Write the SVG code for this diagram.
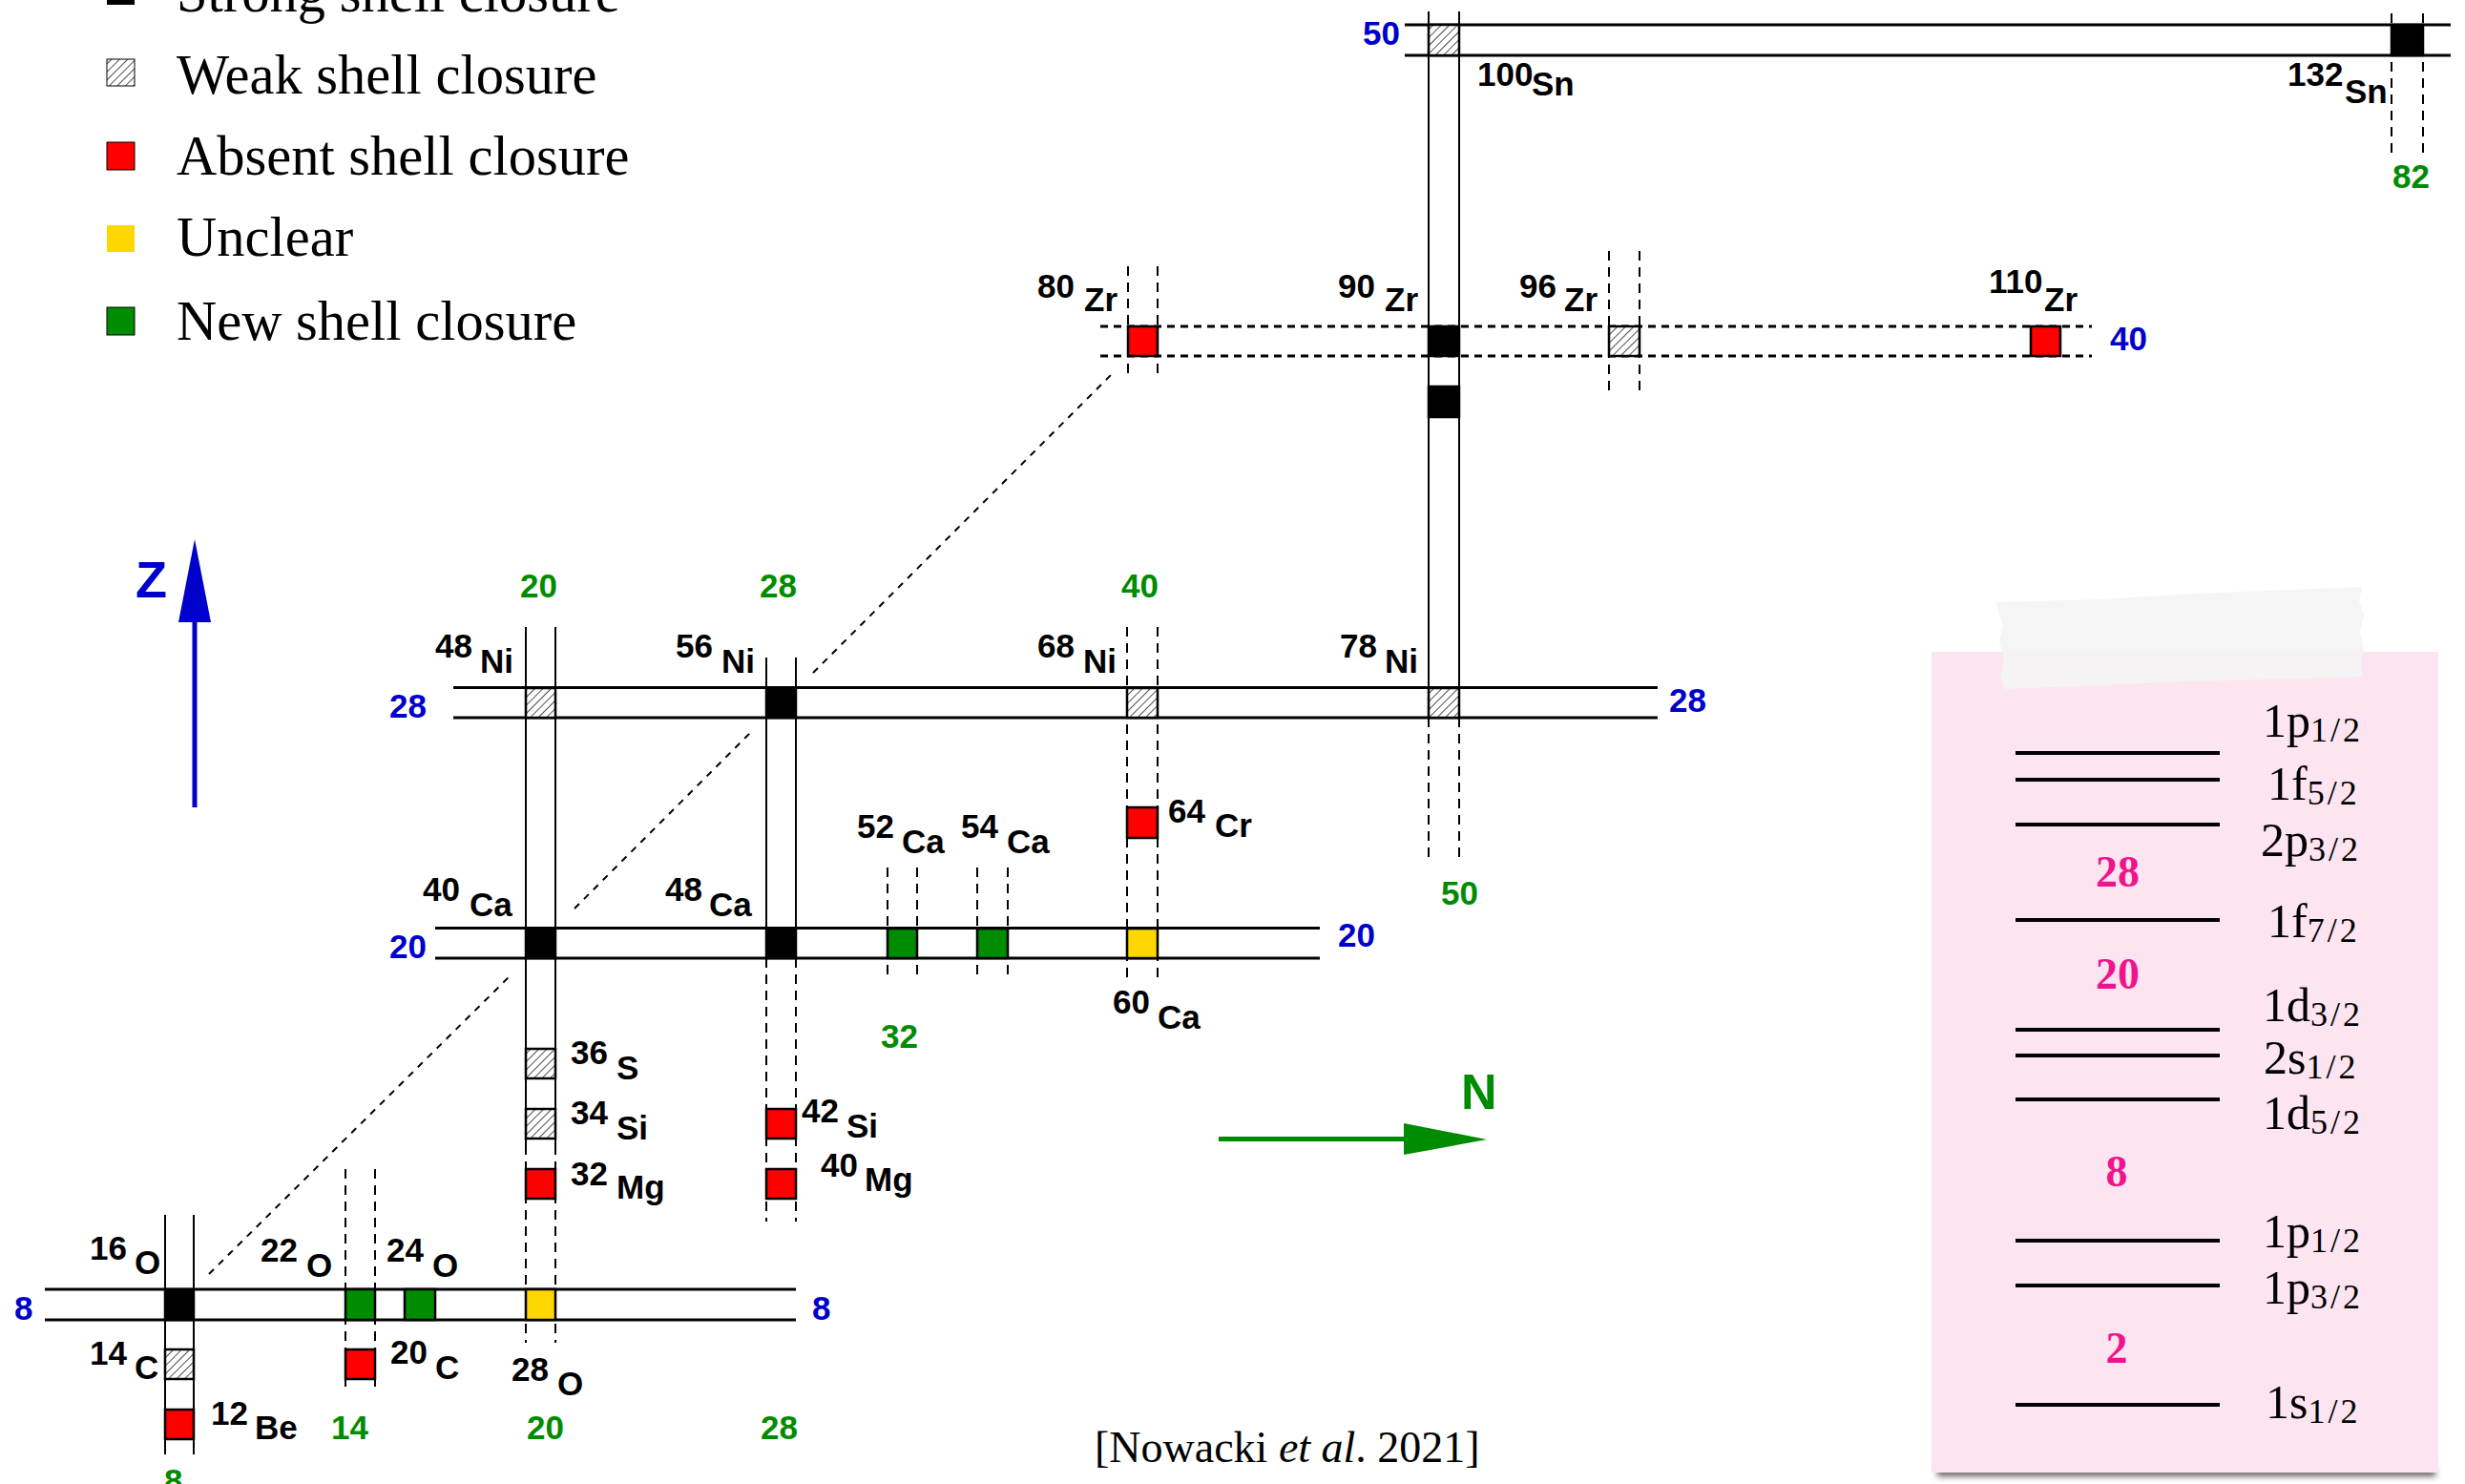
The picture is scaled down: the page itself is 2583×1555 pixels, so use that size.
<svg xmlns="http://www.w3.org/2000/svg" width="2583" height="1555" viewBox="0 0 2583 1555">
<defs>
  <pattern id="hatch" patternUnits="userSpaceOnUse" width="6" height="6" patternTransform="rotate(45)">
    <rect width="6" height="6" fill="#fff"/>
    <line x1="0" y1="0" x2="0" y2="6" stroke="#222" stroke-width="1.6"/>
  </pattern>
  <filter id="soft" x="-10%" y="-300%" width="120%" height="700%">
    <feGaussianBlur stdDeviation="3"/>
  </filter>
</defs>
<style>
  .row{stroke:#000;stroke-width:3;fill:none}
  .rowd{stroke:#000;stroke-width:3;fill:none;stroke-dasharray:8 6}
  .col{stroke:#000;stroke-width:2;fill:none}
  .cold{stroke:#000;stroke-width:2;fill:none;stroke-dasharray:10 7}
  .diag{stroke:#000;stroke-width:2;fill:none;stroke-dasharray:7 7}
  .box{stroke:#000;stroke-width:2.5}
  .strong{fill:#000}
  .weak{fill:url(#hatch)}
  .absent{fill:#ff0000}
  .unclear{fill:#ffd700}
  .new{fill:#008c00}
  .lbl{font-family:"Liberation Sans",Arial,sans-serif;font-weight:bold;font-size:35px;fill:#000}
  .zn{font-family:"Liberation Sans",Arial,sans-serif;font-weight:bold;font-size:35px;fill:#0000cc}
  .nn{font-family:"Liberation Sans",Arial,sans-serif;font-weight:bold;font-size:35px;fill:#008c00}
  .leg{font-family:"Liberation Serif","Times New Roman",serif;font-size:58.5px;fill:#000}
  .cite{font-family:"Liberation Serif","Times New Roman",serif;font-size:46px;fill:#000}
  .lev{font-family:"Liberation Serif","Times New Roman",serif;font-size:50px;fill:#000}
  .sub{font-size:36px;letter-spacing:3px}
  .magic{font-family:"Liberation Serif","Times New Roman",serif;font-weight:bold;font-size:46px;fill:#f0148c;text-anchor:middle}
  .lvl{stroke:#000;stroke-width:4}
</style>

<rect width="2583" height="1555" fill="#fff"/>

<!-- legend -->
<g id="legend">
  <rect class="strong" x="112" y="-24" width="29" height="29"/>
  <text class="leg" x="185" y="12">Strong shell closure</text>
  <rect class="weak" x="112" y="62" width="29" height="28" stroke="#000" stroke-width="1"/>
  <text class="leg" x="185" y="98">Weak shell closure</text>
  <rect class="absent" x="112" y="149" width="29" height="29" stroke="#000" stroke-width="1"/>
  <text class="leg" x="185" y="183">Absent shell closure</text>
  <rect class="unclear" x="112" y="236" width="29" height="28"/>
  <text class="leg" x="185" y="268">Unclear</text>
  <rect class="new" x="112" y="322" width="29" height="29" stroke="#000" stroke-width="1"/>
  <text class="leg" x="185" y="356">New shell closure</text>
</g>

<!-- closed-shell lines: proton rows, neutron columns and the diagonal N=Z guides -->
<g id="connectors">
  <!-- Z = 50 -->
  <line class="row" x1="1472" y1="26" x2="2568" y2="26"/>
  <line class="row" x1="1472" y1="58" x2="2568" y2="58"/>
  <!-- Z = 40 -->
  <line class="rowd" x1="1153" y1="342" x2="2192" y2="342"/>
  <line class="rowd" x1="1153" y1="373" x2="2192" y2="373"/>
  <!-- Z = 28 -->
  <line class="row" x1="475" y1="720.5" x2="1737" y2="720.5"/>
  <line class="row" x1="475" y1="752" x2="1737" y2="752"/>
  <!-- Z = 20 -->
  <line class="row" x1="456" y1="972.5" x2="1383" y2="972.5"/>
  <line class="row" x1="456" y1="1004" x2="1383" y2="1004"/>
  <!-- Z = 8 -->
  <line class="row" x1="47" y1="1351" x2="834" y2="1351"/>
  <line class="row" x1="47" y1="1383" x2="834" y2="1383"/>

  <!-- N = 8 -->
  <line class="col" x1="173" y1="1273" x2="173" y2="1524"/>
  <line class="col" x1="203" y1="1273" x2="203" y2="1524"/>
  <!-- N = 14 -->
  <line class="cold" x1="362" y1="1225" x2="362" y2="1453"/>
  <line class="cold" x1="393" y1="1225" x2="393" y2="1453"/>
  <!-- N = 20 -->
  <line class="col" x1="551" y1="657" x2="551" y2="1200"/>
  <line class="col" x1="582" y1="657" x2="582" y2="1200"/>
  <line class="cold" x1="551" y1="1200" x2="551" y2="1407"/>
  <line class="cold" x1="582" y1="1200" x2="582" y2="1407"/>
  <!-- N = 28 -->
  <line class="col" x1="803" y1="689" x2="803" y2="1004"/>
  <line class="col" x1="834" y1="689" x2="834" y2="1004"/>
  <line class="cold" x1="803" y1="1004" x2="803" y2="1280"/>
  <line class="cold" x1="834" y1="1004" x2="834" y2="1280"/>
  <!-- N = 32, 34 -->
  <line class="cold" x1="930" y1="909" x2="930" y2="1028"/>
  <line class="cold" x1="961" y1="909" x2="961" y2="1028"/>
  <line class="cold" x1="1024" y1="909" x2="1024" y2="1028"/>
  <line class="cold" x1="1056" y1="909" x2="1056" y2="1028"/>
  <!-- N = 40 -->
  <line class="cold" x1="1181" y1="657" x2="1181" y2="1028"/>
  <line class="cold" x1="1213" y1="657" x2="1213" y2="1028"/>
  <line class="cold" x1="1182" y1="279" x2="1182" y2="397"/>
  <line class="cold" x1="1213" y1="279" x2="1213" y2="397"/>
  <!-- N = 50 -->
  <line class="col" x1="1497" y1="12" x2="1497" y2="752"/>
  <line class="col" x1="1529" y1="12" x2="1529" y2="752"/>
  <line class="cold" x1="1497" y1="752" x2="1497" y2="902"/>
  <line class="cold" x1="1529" y1="752" x2="1529" y2="902"/>
  <!-- N = 56 -->
  <line class="cold" x1="1686" y1="263" x2="1686" y2="413"/>
  <line class="cold" x1="1718" y1="263" x2="1718" y2="413"/>
  <!-- N = 82 -->
  <line class="cold" x1="2506" y1="14" x2="2506" y2="163"/>
  <line class="cold" x1="2539" y1="14" x2="2539" y2="163"/>

  <!-- N = Z guides -->
  <line class="diag" x1="219" y1="1335" x2="537" y2="1020"/>
  <line class="diag" x1="602" y1="952" x2="787" y2="767"/>
  <line class="diag" x1="852" y1="705" x2="1168" y2="389"/>
</g>

<!-- shell-closure labels: Z in blue, N in green -->
<g id="magic-numbers">
  <text class="zn" x="1428" y="47">50</text>
  <text class="zn" x="2211" y="367">40</text>
  <text class="zn" x="408" y="752">28</text>
  <text class="zn" x="1749" y="746">28</text>
  <text class="zn" x="408" y="1004">20</text>
  <text class="zn" x="1402" y="992">20</text>
  <text class="zn" x="15" y="1383">8</text>
  <text class="zn" x="851" y="1383">8</text>
  <text class="nn" x="545" y="626">20</text>
  <text class="nn" x="796" y="626">28</text>
  <text class="nn" x="1175" y="626">40</text>
  <text class="nn" x="1510" y="948">50</text>
  <text class="nn" x="923" y="1098">32</text>
  <text class="nn" x="2507" y="197">82</text>
  <text class="nn" x="172" y="1564">8</text>
  <text class="nn" x="347" y="1508">14</text>
  <text class="nn" x="552" y="1508">20</text>
  <text class="nn" x="797" y="1508">28</text>
</g>

<!-- nuclei -->
<g id="n-100Sn"><rect class="box weak" x="1497" y="26" width="32" height="32"/><text class="lbl" x="1548" y="90">100</text><text class="lbl" x="1605" y="100">Sn</text></g>
<g id="n-132Sn"><rect class="box strong" x="2506" y="26" width="33" height="32"/><text class="lbl" x="2397" y="90">132</text><text class="lbl" x="2457" y="108">Sn</text></g>
<g id="n-80Zr"><rect class="box absent" x="1182" y="342" width="31" height="31"/><text class="lbl" x="1087" y="312">80</text><text class="lbl" x="1136" y="326">Zr</text></g>
<g id="n-90Zr"><rect class="box strong" x="1497" y="342" width="32" height="31"/><text class="lbl" x="1402" y="312">90</text><text class="lbl" x="1451" y="326">Zr</text></g>
<g id="n-96Zr"><rect class="box weak" x="1686" y="342" width="32" height="31"/><text class="lbl" x="1592" y="312">96</text><text class="lbl" x="1639" y="326">Zr</text></g>
<g id="n-110Zr"><rect class="box absent" x="2128" y="342" width="31" height="31"/><text class="lbl" x="2084" y="307">110</text><text class="lbl" x="2142" y="326">Zr</text></g>
<g id="n-88Sr"><rect class="box strong" x="1497" y="405" width="32" height="32"/></g>
<g id="n-48Ni"><rect class="box weak" x="551" y="721" width="31" height="31"/><text class="lbl" x="456" y="689">48</text><text class="lbl" x="503" y="705">Ni</text></g>
<g id="n-56Ni"><rect class="box strong" x="803" y="721" width="31" height="31"/><text class="lbl" x="708" y="689">56</text><text class="lbl" x="756" y="705">Ni</text></g>
<g id="n-68Ni"><rect class="box weak" x="1181" y="721" width="32" height="31"/><text class="lbl" x="1087" y="689">68</text><text class="lbl" x="1135" y="705">Ni</text></g>
<g id="n-78Ni"><rect class="box weak" x="1497" y="721" width="32" height="31"/><text class="lbl" x="1404" y="689">78</text><text class="lbl" x="1451" y="705">Ni</text></g>
<g id="n-64Cr"><rect class="box absent" x="1181" y="846" width="32" height="32"/><text class="lbl" x="1224" y="862">64</text><text class="lbl" x="1273" y="877">Cr</text></g>
<g id="n-40Ca"><rect class="box strong" x="551" y="973" width="31" height="31"/><text class="lbl" x="443" y="944">40</text><text class="lbl" x="492" y="960">Ca</text></g>
<g id="n-48Ca"><rect class="box strong" x="803" y="973" width="31" height="31"/><text class="lbl" x="697" y="944">48</text><text class="lbl" x="743" y="960">Ca</text></g>
<g id="n-52Ca"><rect class="box new" x="930" y="973" width="31" height="31"/><text class="lbl" x="898" y="878">52</text><text class="lbl" x="945" y="894">Ca</text></g>
<g id="n-54Ca"><rect class="box new" x="1024" y="973" width="32" height="31"/><text class="lbl" x="1007" y="878">54</text><text class="lbl" x="1055" y="894">Ca</text></g>
<g id="n-60Ca"><rect class="box unclear" x="1181" y="973" width="32" height="31"/><text class="lbl" x="1166" y="1062">60</text><text class="lbl" x="1213" y="1078">Ca</text></g>
<g id="n-36S"><rect class="box weak" x="551" y="1099" width="31" height="31"/><text class="lbl" x="598" y="1115">36</text><text class="lbl" x="646" y="1131">S</text></g>
<g id="n-34Si"><rect class="box weak" x="551" y="1162" width="31" height="31"/><text class="lbl" x="598" y="1178">34</text><text class="lbl" x="646" y="1194">Si</text></g>
<g id="n-32Mg"><rect class="box absent" x="551" y="1225" width="31" height="31"/><text class="lbl" x="598" y="1242">32</text><text class="lbl" x="646" y="1256">Mg</text></g>
<g id="n-42Si"><rect class="box absent" x="803" y="1162" width="31" height="31"/><text class="lbl" x="840" y="1176">42</text><text class="lbl" x="887" y="1192">Si</text></g>
<g id="n-40Mg"><rect class="box absent" x="803" y="1225" width="31" height="31"/><text class="lbl" x="860" y="1233">40</text><text class="lbl" x="906" y="1248">Mg</text></g>
<g id="n-16O"><rect class="box strong" x="173" y="1351" width="30" height="32"/><text class="lbl" x="94" y="1320">16</text><text class="lbl" x="141" y="1335">O</text></g>
<g id="n-22O"><rect class="box new" x="362" y="1351" width="31" height="32"/><text class="lbl" x="273" y="1322">22</text><text class="lbl" x="321" y="1338">O</text></g>
<g id="n-24O"><rect class="box new" x="424" y="1351" width="32" height="32"/><text class="lbl" x="405" y="1322">24</text><text class="lbl" x="453" y="1338">O</text></g>
<g id="n-28O"><rect class="box unclear" x="551" y="1351" width="31" height="32"/><text class="lbl" x="536" y="1447">28</text><text class="lbl" x="584" y="1462">O</text></g>
<g id="n-14C"><rect class="box weak" x="173" y="1414" width="30" height="31"/><text class="lbl" x="94" y="1430">14</text><text class="lbl" x="141" y="1445">C</text></g>
<g id="n-20C"><rect class="box absent" x="362" y="1414" width="31" height="31"/><text class="lbl" x="409" y="1429">20</text><text class="lbl" x="456" y="1445">C</text></g>
<g id="n-12Be"><rect class="box absent" x="173" y="1477" width="30" height="31"/><text class="lbl" x="221" y="1493">12</text><text class="lbl" x="267" y="1508">Be</text></g>

<!-- axes -->
<g id="axis-z" fill="#0000cc">
  <rect x="201.5" y="650" width="5" height="196"/>
  <polygon points="204,565 187,652 221,652"/>
  <text x="142" y="626" font-family="Liberation Sans, Arial, sans-serif" font-weight="bold" font-size="54">Z</text>
</g>
<g id="axis-n" fill="#008c00">
  <rect x="1277" y="1191" width="196" height="5"/>
  <polygon points="1471,1177 1558,1194 1471,1210"/>
  <text x="1531" y="1162" font-family="Liberation Sans, Arial, sans-serif" font-weight="bold" font-size="52">N</text>
</g>

<text class="cite" x="1147" y="1532">[Nowacki <tspan font-style="italic">et al</tspan>. 2021]</text>

<!-- single-particle level scheme on a taped note -->
<g id="level-scheme">
  <rect x="2030" y="1537" width="522" height="10" fill="#666" filter="url(#soft)"/>
  <rect x="2024" y="683" width="531" height="860" fill="#fce4f0"/>
  <polygon points="2092,631 2200,628 2300,622 2475,615 2472,630 2477,645 2473,662 2477,680 2474,696 2476,709 2300,714 2200,718 2100,722 2096,708 2100,690 2095,672 2099,655 2094,642" fill="#f4f4f4" opacity="0.93"/>
  <line class="lvl" x1="2112" y1="789" x2="2326" y2="789"/>
  <line class="lvl" x1="2112" y1="817" x2="2326" y2="817"/>
  <line class="lvl" x1="2112" y1="864" x2="2326" y2="864"/>
  <line class="lvl" x1="2112" y1="964" x2="2326" y2="964"/>
  <line class="lvl" x1="2112" y1="1079" x2="2326" y2="1079"/>
  <line class="lvl" x1="2112" y1="1106" x2="2326" y2="1106"/>
  <line class="lvl" x1="2112" y1="1152" x2="2326" y2="1152"/>
  <line class="lvl" x1="2112" y1="1300" x2="2326" y2="1300"/>
  <line class="lvl" x1="2112" y1="1347" x2="2326" y2="1347"/>
  <line class="lvl" x1="2112" y1="1472" x2="2326" y2="1472"/>
  <text class="lev" x="2371" y="772">1p<tspan class="sub" dy="5">1/2</tspan></text>
  <text class="lev" x="2376" y="838">1f<tspan class="sub" dy="5">5/2</tspan></text>
  <text class="lev" x="2369" y="897">2p<tspan class="sub" dy="5">3/2</tspan></text>
  <text class="lev" x="2376" y="982">1f<tspan class="sub" dy="5">7/2</tspan></text>
  <text class="lev" x="2371" y="1070">1d<tspan class="sub" dy="5">3/2</tspan></text>
  <text class="lev" x="2372" y="1125">2s<tspan class="sub" dy="5">1/2</tspan></text>
  <text class="lev" x="2371" y="1183">1d<tspan class="sub" dy="5">5/2</tspan></text>
  <text class="lev" x="2371" y="1307">1p<tspan class="sub" dy="5">1/2</tspan></text>
  <text class="lev" x="2371" y="1366">1p<tspan class="sub" dy="5">3/2</tspan></text>
  <text class="lev" x="2374" y="1486">1s<tspan class="sub" dy="5">1/2</tspan></text>
  <text class="magic" x="2219" y="929">28</text>
  <text class="magic" x="2219" y="1036">20</text>
  <text class="magic" x="2218" y="1243">8</text>
  <text class="magic" x="2218" y="1428">2</text>
</g>
</svg>
